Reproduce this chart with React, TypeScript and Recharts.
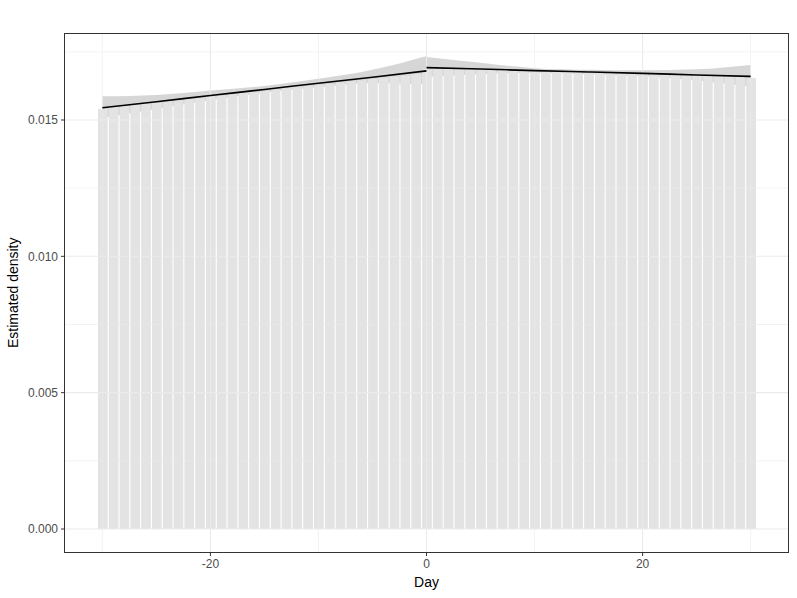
import React from 'react';
import { ComposedChart, Bar, Line, Area, XAxis, YAxis, ReferenceLine } from 'recharts';

const days = [-30,-29,-28,-27,-26,-25,-24,-23,-22,-21,-20,-19,-18,-17,-16,-15,-14,-13,-12,-11,-10,-9,-8,-7,-6,-5,-4,-3,-2,-1,0,1,2,3,4,5,6,7,8,9,10,11,12,13,14,15,16,17,18,19,20,21,22,23,24,25,26,27,28,29,30];
const densities = [0.01540,0.01548,0.01551,0.01556,0.01560,0.01563,0.01569,0.01572,0.01578,0.01580,0.01586,0.01590,0.01594,0.01598,0.01603,0.01607,0.01612,0.01616,0.01620,0.01625,0.01629,0.01633,0.01638,0.01642,0.01646,0.01650,0.01655,0.01659,0.01663,0.01668,0.01686,0.01690,0.01688,0.01687,0.01688,0.01685,0.01686,0.01683,0.01684,0.01682,0.01680,0.01681,0.01678,0.01679,0.01676,0.01675,0.01676,0.01673,0.01674,0.01671,0.01670,0.01670,0.01667,0.01668,0.01665,0.01664,0.01663,0.01661,0.01660,0.01658,0.01654];

const leftX = [-30,-25,-20,-15,-10,-5,0];
const leftFit = [0.01545,0.01567,0.01590,0.01612,0.01635,0.01657,0.01680];
const leftLo = [0.01507,0.01540,0.01572,0.01600,0.01620,0.01636,0.01630];
const leftHi = [0.01587,0.01592,0.01608,0.01625,0.01651,0.01684,0.01735];

const rightX = [0,5,10,15,20,25,30];
const rightFit = [0.01692,0.01687,0.01681,0.01676,0.01671,0.01665,0.01660];
const rightLo = [0.01658,0.01668,0.01672,0.01668,0.01660,0.01645,0.01622];
const rightHi = [0.01731,0.01710,0.01690,0.01684,0.01682,0.01686,0.01702];

const xMajor = [-20,0,20];
const xMinor = [-30,-10,10,30];
const yMajor = [0,0.005,0.01,0.015];
const yMinor = [0.0025,0.0075,0.0125,0.0175];

const barData = days.map((d, i) => ({ day: d, density: densities[i] }));
const leftData = leftX.map((d, i) => ({ day: d, fit: leftFit[i], band: [leftLo[i], leftHi[i]] }));
const rightData = rightX.map((d, i) => ({ day: d, fit: rightFit[i], band: [rightLo[i], rightHi[i]] }));

const font = 'Liberation Sans, Arial, sans-serif';

export default function App() {
  return (
    <div style={{ position: 'absolute', left: 0, top: 0, width: 797, height: 598, background: '#fff' }}>
      <ComposedChart width={797} height={598} data={barData} margin={{ top: 33, right: 8, left: 0, bottom: 0 }}>
        <XAxis
          type="number"
          dataKey="day"
          domain={[-33.55, 33.55]}
          ticks={xMajor}
          allowDataOverflow
          axisLine={false}
          tickLine={{ stroke: '#333333' }}
          tickSize={3}
          tickMargin={3}
          height={45}
          tick={{ fill: '#4D4D4D', stroke: 'none', fontSize: 12, fontFamily: font }}
          label={{ value: 'Day', position: 'insideBottom', offset: 11, fill: '#000', fontSize: 14, fontFamily: font }}
        />
        <YAxis
          type="number"
          domain={[-0.00088, 0.01819]}
          ticks={yMajor}
          allowDataOverflow
          axisLine={false}
          tickLine={{ stroke: '#333333' }}
          tickSize={3}
          tickMargin={3}
          width={64}
          tickFormatter={(v: number) => v.toFixed(3)}
          tick={{ fill: '#4D4D4D', stroke: 'none', fontSize: 12, fontFamily: font }}
          label={{ value: 'Estimated density', angle: -90, position: 'insideLeft', offset: 13, dy: 55, fill: '#000', fontSize: 14, fontFamily: font }}
        />
        {xMinor.map((v) => (
          <ReferenceLine key={'xm' + v} x={v} stroke="#EBEBEB" strokeWidth={0.6} />
        ))}
        {yMinor.map((v) => (
          <ReferenceLine key={'ym' + v} y={v} stroke="#EBEBEB" strokeWidth={0.6} />
        ))}
        {xMajor.map((v) => (
          <ReferenceLine key={'xM' + v} x={v} stroke="#EBEBEB" strokeWidth={1.1} />
        ))}
        {yMajor.map((v) => (
          <ReferenceLine key={'yM' + v} y={v} stroke="#EBEBEB" strokeWidth={1.1} />
        ))}
        <Bar dataKey="density" fill="#E3E3E3" barSize={9.7} isAnimationActive={false} />
        <Area data={leftData} dataKey="band" type="monotone" stroke="none" fill="#999999" fillOpacity={0.4} isAnimationActive={false} />
        <Area data={rightData} dataKey="band" type="monotone" stroke="none" fill="#999999" fillOpacity={0.4} isAnimationActive={false} />
        <Line data={leftData} dataKey="fit" type="monotone" stroke="#000" strokeWidth={1.6} dot={false} isAnimationActive={false} />
        <Line data={rightData} dataKey="fit" type="monotone" stroke="#000" strokeWidth={1.6} dot={false} isAnimationActive={false} />
      </ComposedChart>
      <div style={{ position: 'absolute', left: 64, top: 33, width: 725, height: 520, border: '1px solid #333333', boxSizing: 'border-box', pointerEvents: 'none' }} />
    </div>
  );
}
